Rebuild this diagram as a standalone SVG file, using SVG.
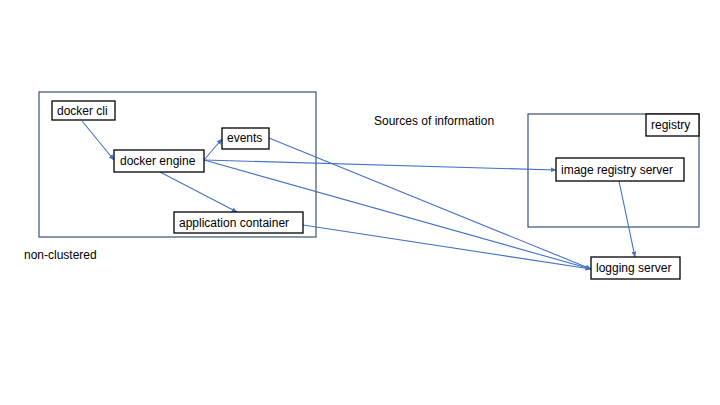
<svg xmlns="http://www.w3.org/2000/svg" width="720" height="405" viewBox="0 0 720 405">
<style>
.grp{fill:none;stroke:#3B5275;stroke-width:1.2}
.node{fill:#fff;stroke:#000;stroke-width:1.3}
.t{font-family:"Liberation Sans",Arial,sans-serif;font-size:12px;fill:#000}
.c{fill:none;stroke:#4472C4;stroke-width:1.1;marker-end:url(#ah)}
</style>
<defs>
<marker id="ah" viewBox="0 0 10 10" refX="9" refY="5" markerWidth="6" markerHeight="6" orient="auto" markerUnits="userSpaceOnUse">
<path d="M0,1 L10,5 L0,9 z" fill="#4472C4"/>
</marker>
</defs>
<rect width="720" height="405" fill="#fff"/>
<g id="non-clustered">
<rect class="grp" x="39" y="92" width="277" height="145"/>
<text class="t" x="24" y="259">non-clustered</text>
</g>
<g id="registry-group">
<rect class="grp" x="528" y="114" width="171" height="113"/>
</g>
<g id="title"><text class="t" x="374" y="125">Sources of information</text></g>
<g id="connectors">
<line class="c" x1="82" y1="121" x2="114" y2="160"/>
<line class="c" x1="204" y1="160" x2="222" y2="139"/>
<line class="c" x1="160" y1="172" x2="237" y2="212"/>
<line class="c" x1="204" y1="160" x2="556" y2="170"/>
<line class="c" x1="204" y1="160" x2="591" y2="269"/>
<line class="c" x1="269" y1="138" x2="591" y2="269"/>
<line class="c" x1="303" y1="225" x2="591" y2="269"/>
<line class="c" x1="619" y1="181" x2="635" y2="257"/>
</g>
<g id="docker-cli"><rect class="node" x="52" y="101" width="63" height="19"/><text class="t" x="57" y="115">docker cli</text></g>
<g id="docker-engine"><rect class="node" x="114" y="150" width="90" height="22"/><text class="t" x="120" y="165">docker engine</text></g>
<g id="events"><rect class="node" x="222" y="128" width="47" height="21"/><text class="t" x="227" y="142">events</text></g>
<g id="application-container"><rect class="node" x="174" y="212" width="129" height="21"/><text class="t" x="179" y="227">application container</text></g>
<g id="registry"><rect class="node" x="646" y="114" width="53" height="22"/><text class="t" x="651" y="129">registry</text></g>
<g id="image-registry-server"><rect class="node" x="556" y="158" width="128" height="23"/><text class="t" x="561" y="174">image registry server</text></g>
<g id="logging-server"><rect class="node" x="591" y="257" width="89" height="22"/><text class="t" x="596" y="272">logging server</text></g>
</svg>
